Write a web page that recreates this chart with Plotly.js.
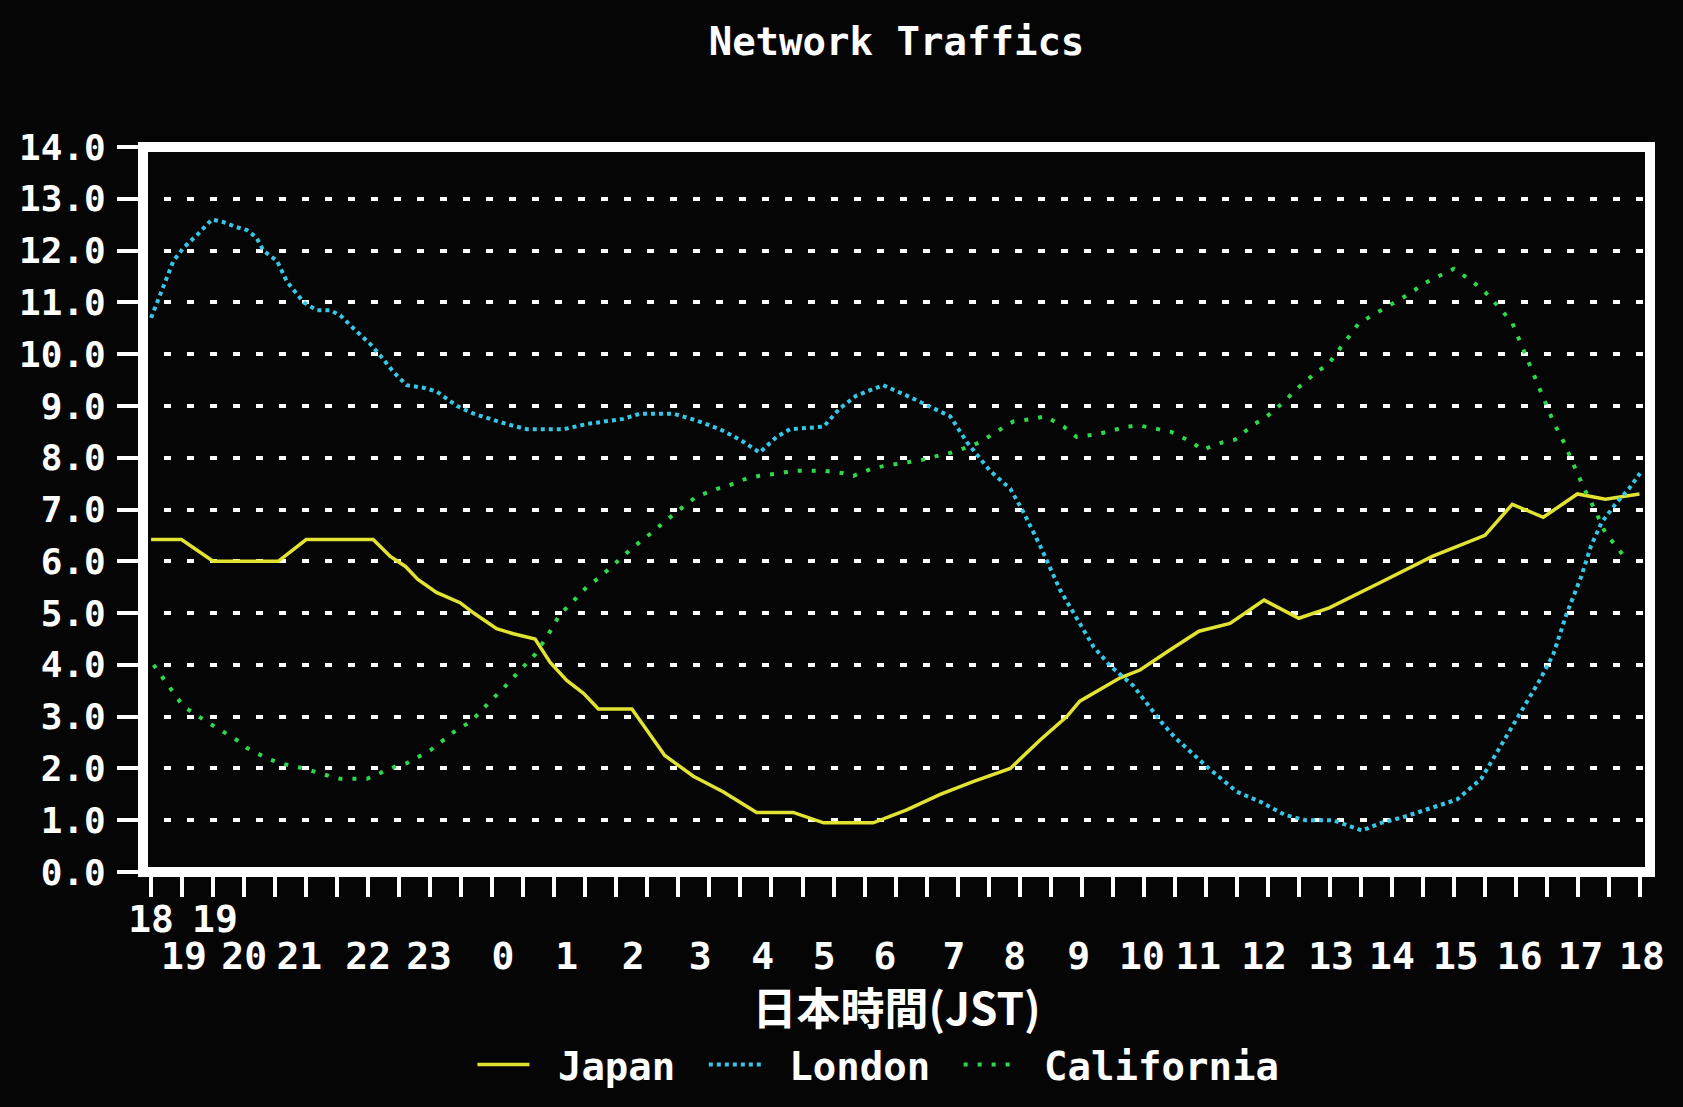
<!DOCTYPE html>
<html>
<head>
<meta charset="utf-8">
<script src="https://cdn.plot.ly/plotly-3.0.1.min.js"></script>
<style>
  html, body { margin: 0; padding: 0; background: #050505; }
  #chart { width: 1683px; height: 1107px; }
</style>
</head>
<body>
<div id="chart"></div>
<script>
// ---- data (hours since 18:00 JST of day 1, expressed as 18..42) ----
var japanTime = [18.0,18.49,19.0,20.05,20.5,21.58,21.85,22.1,22.3,22.6,22.98,23.2,23.57,23.84,24.19,24.43,24.7,24.97,25.21,25.75,
  26.28,26.74,27.22,27.76,28.35,28.84,29.64,30.18,30.72,31.26,31.85,32.33,32.76,32.97,33.62,
  33.94,34.44,34.89,35.39,35.94,36.5,36.99,37.83,38.66,39.5,39.94,40.44,40.99,41.44,41.99];
var japanTraffic = [6.42,6.42,6.0,6.0,6.42,6.42,6.1,5.9,5.65,5.4,5.2,5.0,4.7,4.6,4.5,4.05,3.7,3.45,3.15,3.15,
  2.25,1.85,1.55,1.15,1.15,0.95,0.95,1.2,1.5,1.75,2.0,2.55,3.0,3.3,3.75,
  3.9,4.3,4.65,4.8,5.25,4.9,5.1,5.6,6.1,6.5,7.1,6.85,7.3,7.2,7.3];

var londonTime = [18.0,18.2,18.36,18.52,18.74,18.98,19.17,19.38,19.54,19.7,19.81,20.03,20.19,20.46,20.67,20.88,21.05,21.26,21.53,21.69,
  21.91,22.12,22.39,22.6,22.93,23.2,23.46,23.73,24.06,24.27,24.65,25.02,25.35,25.61,25.88,26.42,26.79,27.17,27.49,27.81,
  28.08,28.3,28.84,29.0,29.1,29.37,29.8,30.18,30.72,30.88,31.15,31.52,31.85,32.06,32.33,32.65,32.92,33.19,33.46,33.83,
  34.28,34.5,35.05,35.5,35.89,36.28,36.61,37.05,37.52,37.83,38.16,38.66,39.05,39.44,39.66,39.88,40.1,40.38,40.6,40.82,
  41.05,41.21,41.38,41.6,41.82,42.0];
var londonTraffic = [10.7,11.3,11.8,12.05,12.3,12.6,12.55,12.45,12.4,12.25,12.0,11.8,11.4,11.0,10.85,10.85,10.75,10.5,10.2,9.98,
  9.65,9.4,9.35,9.28,9.0,8.85,8.75,8.65,8.55,8.55,8.55,8.65,8.7,8.75,8.85,8.85,8.72,8.55,8.35,8.1,
  8.4,8.55,8.6,8.8,8.95,9.2,9.4,9.2,8.9,8.8,8.3,7.75,7.4,6.95,6.3,5.45,4.9,4.35,3.98,3.6,
  2.9,2.6,2.0,1.55,1.35,1.1,1.0,1.0,0.8,0.95,1.05,1.25,1.4,1.8,2.25,2.7,3.15,3.7,4.2,5.0,
  5.7,6.3,6.75,7.1,7.4,7.7];

var californiaTime = [18.04,18.28,18.52,18.9,19.03,19.38,19.54,19.86,20.08,20.46,20.88,21.05,21.48,21.96,22.12,22.5,22.93,23.15,23.47,23.68,
  23.95,24.19,24.41,24.6,24.7,25.02,25.24,25.56,25.75,26.12,26.26,26.63,26.79,27.12,27.28,27.6,27.81,28.14,28.35,28.84,
  29.16,29.32,29.64,29.86,30.18,30.4,30.72,30.91,31.15,31.36,31.69,31.9,32.22,32.41,32.71,32.92,33.24,33.4,33.73,33.94,
  34.28,34.44,34.78,34.94,35.28,35.47,35.78,35.94,36.28,36.44,36.78,36.97,37.22,37.47,37.83,38.05,38.33,38.49,38.83,39.0,
  39.3,39.5,39.77,39.94,40.08,40.22,40.35,40.47,40.6,40.77,40.94,41.1,41.27,41.44,41.74];
var californiaTraffic = [4.0,3.6,3.2,2.9,2.8,2.55,2.4,2.2,2.1,2.0,1.85,1.8,1.8,2.05,2.1,2.35,2.75,2.9,3.3,3.55,
  3.9,4.2,4.6,5.0,5.1,5.5,5.7,6.05,6.25,6.6,6.75,7.1,7.25,7.4,7.45,7.6,7.65,7.7,7.75,7.75,
  7.7,7.65,7.8,7.85,7.9,7.95,8.05,8.1,8.2,8.3,8.55,8.7,8.75,8.8,8.6,8.4,8.45,8.5,8.6,8.62,
  8.55,8.5,8.3,8.15,8.3,8.35,8.65,8.75,9.1,9.3,9.65,9.8,10.2,10.6,10.85,11.0,11.2,11.35,11.55,11.65,
  11.4,11.2,10.85,10.6,10.2,9.8,9.4,9.1,8.7,8.3,7.85,7.4,7.0,6.55,6.1];

var seriesNames = ['Japan', 'London', 'California'];
var xTickLabelsRow1 = ['18', '19'];
var xTickLabelsRow2 = ['19','20','21','22','23','0','1','2','3','4','5','6','7','8','9','10','11','12','13','14','15','16','17','18'];
var chartTitle = 'Network Traffics';
var xAxisTitle = '日本時間(JST)';

// ---- layout-only constants (label placement on the old character grid) ----
var row1LabelPos = [18.0, 19.03];
var row2LabelPos = [18.53,19.5,20.39,21.5,22.48,23.67,24.7,25.77,26.85,27.86,28.85,29.83,30.94,31.92,32.95,33.97,34.88,35.94,37.02,38.0,39.03,40.06,41.04,42.03];

var MONO = 'DejaVu Sans Mono, monospace';
var xRange = [17.87, 42.16];
var NB = '\u00a0';

var traces = [
  { x: japanTime, y: japanTraffic, name: NB + seriesNames[0] + NB, type: 'scatter', mode: 'lines',
    line: { color: '#e2e232', width: 3.5 } },
  { x: londonTime, y: londonTraffic, name: NB + seriesNames[1] + NB, type: 'scatter', mode: 'lines',
    line: { color: '#36c6e6', width: 4, dash: '4px,4px' } },
  { x: californiaTime, y: californiaTraffic, name: NB + seriesNames[2], type: 'scatter', mode: 'lines',
    line: { color: '#2fd84a', width: 4, dash: '4px,10px' } },
  // invisible helper traces to anchor the label axes
  { x: [xRange[0]], y: [0], xaxis: 'x2', yaxis: 'y', mode: 'markers', marker: { opacity: 0 }, showlegend: false, hoverinfo: 'skip' },
  { x: [xRange[0]], y: [0], xaxis: 'x3', yaxis: 'y', mode: 'markers', marker: { opacity: 0 }, showlegend: false, hoverinfo: 'skip' }
];

var layout = {
  width: 1683, height: 1107,
  paper_bgcolor: '#050505', plot_bgcolor: '#050505',
  margin: { l: 143, r: 33, t: 147, b: 234, pad: 0 },
  font: { family: MONO, color: '#ffffff' },
  title: { text: chartTitle, x: 0.5, xref: 'paper', xanchor: 'center', y: 0.963, yref: 'container', yanchor: 'middle',
           font: { family: MONO, size: 39, color: '#ffffff', weight: 'bold' } },
  showlegend: true,
  legend: { orientation: 'h', x: 0.488, xanchor: 'center', y: -0.264, yanchor: 'middle',
            font: { family: MONO, size: 39, color: '#ffffff', weight: 'bold' }, bgcolor: 'rgba(0,0,0,0)',
            itemwidth: 52, traceorder: 'normal' },
  xaxis: {
    range: xRange, tickmode: 'linear', tick0: 18, dtick: 0.5,
    ticks: 'outside', ticklen: 24, tickwidth: 4, tickcolor: '#ffffff',
    showticklabels: false, showgrid: false, zeroline: false, showline: false, fixedrange: true
  },
  xaxis2: {
    overlaying: 'x', anchor: 'y', side: 'bottom', range: xRange,
    tickmode: 'array', tickvals: row1LabelPos, ticktext: xTickLabelsRow1, ticks: '', tickangle: 0,
    ticklabelstandoff: 21, tickfont: { family: MONO, size: 38, color: '#ffffff', weight: 'bold' },
    showgrid: false, zeroline: false, showline: false,
    title: { text: xAxisTitle, standoff: 54, font: { family: 'Noto Sans CJK JP, sans-serif', size: 44, color: '#ffffff', weight: 'bold' } }
  },
  xaxis3: {
    overlaying: 'x', anchor: 'y', side: 'bottom', range: xRange,
    tickmode: 'array', tickvals: row2LabelPos, ticktext: xTickLabelsRow2, ticks: '', tickangle: 0,
    ticklabelstandoff: 58, tickfont: { family: MONO, size: 38, color: '#ffffff', weight: 'bold' },
    showgrid: false, zeroline: false, showline: false
  },
  yaxis: {
    range: [0, 14], tickmode: 'linear', tick0: 0, dtick: 1, tickformat: '.1f',
    ticks: 'outside', ticklen: 25, tickwidth: 4, tickcolor: '#ffffff',
    ticklabelstandoff: 4, tickfont: { family: MONO, size: 36, color: '#ffffff', weight: 'bold' },
    showgrid: true, gridcolor: '#ffffff', gridwidth: 4, griddash: '5px,16px,2px,0px',
    zeroline: false, showline: false, fixedrange: true
  },
  shapes: [
    { type: 'rect', xref: 'paper', yref: 'paper', x0: 0, x1: 1, y0: 0, y1: 1,
      line: { color: '#ffffff', width: 10 }, fillcolor: 'rgba(0,0,0,0)', layer: 'above' }
  ]
};

Plotly.newPlot('chart', traces, layout, { displayModeBar: false, staticPlot: true });
</script>
</body>
</html>
